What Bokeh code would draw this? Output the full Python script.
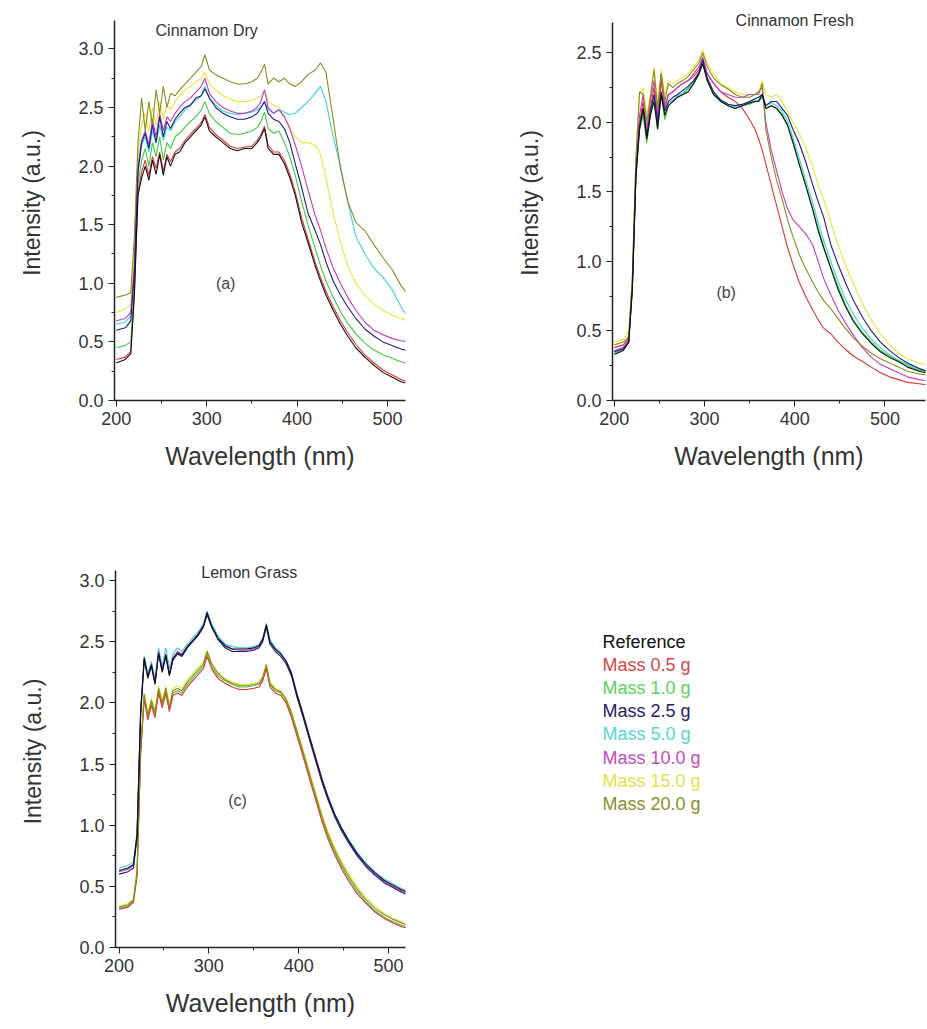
from bokeh.plotting import figure
from bokeh.models import Range1d, SingleIntervalTicker, PrintfTickFormatter, Label, ColumnDataSource
from bokeh.layouts import row, column
from bokeh.embed import file_html
from bokeh.resources import INLINE
from bokeh.core.properties import value

# ---------------- data ----------------
wavelength = [200, 210, 216, 220, 224, 228, 232, 236, 240, 244, 248, 252, 256, 260, 265, 270,
              276, 282, 288, 294, 298, 303, 310, 318, 326, 334, 342, 350, 356, 360, 364, 368,
              374, 380, 386, 392, 398, 405, 412, 420, 426, 432, 440, 448, 456, 465, 475, 485,
              495, 505, 515, 525, 538, 550]

series_names = ["Reference", "Mass 0.5 g", "Mass 1.0 g", "Mass 2.5 g", "Mass 5.0 g",
                "Mass 10.0 g", "Mass 15.0 g", "Mass 20.0 g"]
series_colors = ["#111111", "#e03535", "#3ccc3c", "#1c1c88", "#38d4d4", "#c838c8", "#e6e63a", "#8c8c1e"]
legend_colors = ["#111111", "#d64848", "#5ad45a", "#22226e", "#55d6d6", "#c44ac4", "#e2e24a", "#8c8c2a"]

# (a) Cinnamon Dry
a_ref = [0.32, 0.35, 0.40, 0.90, 1.75, 1.90, 2.00, 1.88, 2.05, 1.93, 2.10, 1.92, 2.08, 2.00, 2.10, 2.12,
         2.20, 2.25, 2.30, 2.35, 2.42, 2.30, 2.25, 2.20, 2.15, 2.13, 2.15, 2.15, 2.20, 2.25, 2.32, 2.15,
         2.10, 2.10, 2.02, 1.90, 1.75, 1.52, 1.35, 1.15, 1.02, 0.90, 0.77, 0.65, 0.55, 0.45, 0.37, 0.30,
         0.24, 0.20, 0.16, 0.14, 0.12, 0.11]
a_m05 = [0.35, 0.37, 0.42, 0.92, 1.78, 1.95, 2.05, 1.92, 2.08, 1.98, 2.12, 1.96, 2.10, 2.04, 2.12, 2.15,
         2.22, 2.27, 2.32, 2.37, 2.44, 2.33, 2.27, 2.22, 2.17, 2.15, 2.16, 2.17, 2.22, 2.27, 2.34, 2.18,
         2.12, 2.12, 2.05, 1.93, 1.78, 1.56, 1.38, 1.18, 1.05, 0.93, 0.80, 0.68, 0.58, 0.48, 0.39, 0.32,
         0.26, 0.22, 0.18, 0.15, 0.13, 0.12]
a_m10 = [0.45, 0.47, 0.50, 1.00, 1.85, 2.05, 2.15, 2.00, 2.20, 2.08, 2.25, 2.05, 2.20, 2.15, 2.25, 2.28,
         2.33, 2.38, 2.42, 2.48, 2.55, 2.45, 2.38, 2.33, 2.28, 2.27, 2.28, 2.30, 2.33, 2.38, 2.46, 2.32,
         2.28, 2.30, 2.20, 2.08, 1.92, 1.70, 1.50, 1.30, 1.15, 1.02, 0.88, 0.76, 0.66, 0.57, 0.49, 0.43,
         0.39, 0.36, 0.33, 0.31, 0.30, 0.29]
a_m25 = [0.60, 0.62, 0.68, 1.10, 1.95, 2.20, 2.28, 2.15, 2.35, 2.20, 2.42, 2.25, 2.38, 2.32, 2.40, 2.45,
         2.50, 2.52, 2.58, 2.60, 2.66, 2.58, 2.50, 2.45, 2.42, 2.40, 2.40, 2.42, 2.45, 2.50, 2.55, 2.45,
         2.40, 2.38, 2.32, 2.20, 2.02, 1.82, 1.60, 1.45, 1.33, 1.18, 1.02, 0.90, 0.80, 0.70, 0.61, 0.55,
         0.50, 0.47, 0.44, 0.42, 0.40, 0.38]
a_m50 = [0.65, 0.67, 0.72, 1.10, 1.95, 2.18, 2.25, 2.12, 2.30, 2.20, 2.35, 2.22, 2.33, 2.30, 2.38, 2.42,
         2.48, 2.52, 2.56, 2.60, 2.68, 2.58, 2.52, 2.47, 2.45, 2.44, 2.45, 2.46, 2.48, 2.50, 2.55, 2.48,
         2.45, 2.48, 2.46, 2.44, 2.45, 2.50, 2.55, 2.62, 2.68, 2.55, 2.25, 2.00, 1.70, 1.40, 1.25, 1.13,
         1.05, 0.95, 0.80, 0.68, 0.58, 0.50]
a_m100 = [0.68, 0.70, 0.75, 1.15, 2.00, 2.22, 2.30, 2.18, 2.40, 2.25, 2.45, 2.30, 2.42, 2.38, 2.45, 2.50,
          2.55, 2.58, 2.63, 2.68, 2.75, 2.62, 2.55, 2.50, 2.47, 2.45, 2.45, 2.47, 2.50, 2.55, 2.65, 2.50,
          2.45, 2.48, 2.42, 2.32, 2.18, 2.00, 1.80, 1.58, 1.45, 1.30, 1.13, 1.00, 0.88, 0.77, 0.67, 0.60,
          0.56, 0.53, 0.51, 0.50, 0.49, 0.48]
a_m150 = [0.75, 0.78, 0.82, 1.30, 2.10, 2.35, 2.45, 2.30, 2.50, 2.35, 2.55, 2.40, 2.52, 2.48, 2.55, 2.60,
          2.65, 2.68, 2.72, 2.75, 2.80, 2.70, 2.65, 2.60, 2.57, 2.55, 2.55, 2.56, 2.58, 2.60, 2.65, 2.55,
          2.52, 2.50, 2.42, 2.32, 2.25, 2.20, 2.20, 2.18, 2.10, 1.90, 1.60, 1.35, 1.15, 1.00, 0.90, 0.82,
          0.77, 0.73, 0.70, 0.67, 0.64, 0.62]
a_m200 = [0.88, 0.90, 0.92, 1.40, 2.20, 2.58, 2.30, 2.55, 2.35, 2.65, 2.45, 2.68, 2.50, 2.62, 2.60, 2.65,
          2.70, 2.75, 2.80, 2.85, 2.95, 2.82, 2.78, 2.75, 2.72, 2.70, 2.70, 2.72, 2.75, 2.80, 2.87, 2.70,
          2.75, 2.72, 2.75, 2.70, 2.68, 2.72, 2.78, 2.82, 2.88, 2.80, 2.40, 1.98, 1.70, 1.52, 1.45, 1.33,
          1.22, 1.12, 0.98, 0.88, 0.80, 0.72]

# (b) Cinnamon Fresh
b_ref = [0.33, 0.36, 0.42, 0.80, 1.60, 1.95, 2.10, 1.88, 2.05, 2.15, 1.95, 2.20, 2.05, 2.12, 2.15, 2.18,
         2.20, 2.22, 2.28, 2.35, 2.42, 2.30, 2.20, 2.15, 2.12, 2.10, 2.12, 2.14, 2.15, 2.15, 2.20, 2.10,
         2.12, 2.10, 2.05, 1.98, 1.86, 1.70, 1.55, 1.37, 1.22, 1.10, 0.95, 0.80, 0.68, 0.57, 0.48, 0.41,
         0.35, 0.31, 0.28, 0.24, 0.21, 0.19]
b_m05 = [0.38, 0.40, 0.45, 0.85, 1.65, 2.00, 2.15, 1.90, 2.10, 2.25, 2.00, 2.30, 2.10, 2.20, 2.22, 2.25,
         2.28, 2.30, 2.33, 2.38, 2.45, 2.35, 2.28, 2.22, 2.18, 2.15, 2.10, 2.02, 1.95, 1.88, 1.80, 1.70,
         1.55, 1.40, 1.25, 1.10, 0.98, 0.85, 0.75, 0.65, 0.58, 0.52, 0.48, 0.42, 0.37, 0.32, 0.28, 0.24,
         0.20, 0.17, 0.15, 0.13, 0.12, 0.11]
b_m10 = [0.34, 0.37, 0.42, 0.80, 1.62, 1.95, 2.05, 1.85, 2.05, 2.18, 1.95, 2.20, 2.02, 2.12, 2.15, 2.18,
         2.20, 2.24, 2.28, 2.35, 2.43, 2.30, 2.20, 2.15, 2.12, 2.10, 2.12, 2.13, 2.15, 2.15, 2.18, 2.10,
         2.12, 2.10, 2.06, 1.98, 1.85, 1.70, 1.55, 1.38, 1.24, 1.11, 0.96, 0.82, 0.69, 0.58, 0.49, 0.42,
         0.36, 0.32, 0.28, 0.25, 0.22, 0.20]
b_m25 = [0.35, 0.37, 0.42, 0.80, 1.65, 1.98, 2.10, 1.90, 2.08, 2.20, 2.00, 2.22, 2.08, 2.15, 2.18, 2.20,
         2.23, 2.26, 2.30, 2.36, 2.45, 2.32, 2.22, 2.16, 2.13, 2.12, 2.13, 2.15, 2.17, 2.18, 2.20, 2.12,
         2.15, 2.15, 2.10, 2.05, 1.95, 1.85, 1.72, 1.55, 1.43, 1.32, 1.12, 0.98, 0.85, 0.72, 0.60, 0.50,
         0.42, 0.36, 0.31, 0.27, 0.23, 0.20]
b_m50 = [0.35, 0.38, 0.43, 0.82, 1.63, 1.97, 2.08, 1.87, 2.06, 2.20, 1.97, 2.22, 2.04, 2.14, 2.16, 2.19,
         2.21, 2.25, 2.30, 2.36, 2.44, 2.31, 2.21, 2.16, 2.13, 2.11, 2.13, 2.14, 2.16, 2.16, 2.20, 2.12,
         2.14, 2.12, 2.08, 2.01, 1.89, 1.74, 1.59, 1.42, 1.28, 1.15, 1.00, 0.86, 0.73, 0.62, 0.52, 0.44,
         0.38, 0.33, 0.29, 0.26, 0.23, 0.21]
b_m100 = [0.36, 0.38, 0.44, 0.85, 1.70, 2.05, 2.20, 1.95, 2.15, 2.30, 2.05, 2.35, 2.12, 2.20, 2.22, 2.25,
          2.28, 2.30, 2.35, 2.40, 2.47, 2.35, 2.28, 2.22, 2.20, 2.18, 2.18, 2.20, 2.20, 2.22, 2.25, 2.00,
          1.80, 1.65, 1.50, 1.38, 1.30, 1.25, 1.20, 1.12, 1.00, 0.88, 0.76, 0.65, 0.56, 0.47, 0.38, 0.31,
          0.26, 0.23, 0.20, 0.17, 0.15, 0.14]
b_m150 = [0.42, 0.44, 0.50, 0.90, 1.75, 2.20, 2.25, 2.05, 2.20, 2.40, 2.15, 2.38, 2.20, 2.30, 2.28, 2.30,
          2.32, 2.35, 2.40, 2.45, 2.52, 2.42, 2.35, 2.28, 2.25, 2.22, 2.20, 2.20, 2.20, 2.22, 2.30, 2.20,
          2.18, 2.20, 2.15, 2.08, 2.00, 1.92, 1.82, 1.68, 1.55, 1.45, 1.28, 1.12, 0.98, 0.84, 0.70, 0.58,
          0.48, 0.40, 0.34, 0.30, 0.27, 0.25]
b_m200 = [0.40, 0.42, 0.46, 0.88, 1.75, 2.22, 2.20, 2.00, 2.18, 2.38, 2.10, 2.35, 2.15, 2.28, 2.25, 2.28,
          2.30, 2.33, 2.38, 2.43, 2.50, 2.40, 2.32, 2.27, 2.24, 2.20, 2.18, 2.18, 2.20, 2.20, 2.28, 1.95,
          1.75, 1.58, 1.45, 1.30, 1.18, 1.05, 0.95, 0.85, 0.78, 0.72, 0.66, 0.59, 0.52, 0.45, 0.39, 0.34,
          0.30, 0.27, 0.24, 0.21, 0.19, 0.18]

# (c) Lemon Grass
c_ref = [0.63, 0.65, 0.68, 0.92, 1.93, 2.37, 2.21, 2.31, 2.16, 2.41, 2.26, 2.39, 2.23, 2.36, 2.41, 2.39,
         2.46, 2.51, 2.56, 2.63, 2.74, 2.63, 2.53, 2.47, 2.44, 2.44, 2.44, 2.45, 2.47, 2.52, 2.64, 2.50,
         2.44, 2.40, 2.34, 2.24, 2.07, 1.90, 1.72, 1.52, 1.37, 1.24, 1.09, 0.97, 0.87, 0.77, 0.68, 0.61,
         0.55, 0.51, 0.47, 0.44, 0.42, 0.40]
c_m05 = [0.31, 0.33, 0.37, 0.58, 1.58, 2.03, 1.86, 1.98, 1.88, 2.08, 1.96, 2.08, 1.93, 2.06, 2.08, 2.06,
         2.13, 2.18, 2.23, 2.28, 2.38, 2.28, 2.20, 2.16, 2.13, 2.11, 2.11, 2.12, 2.13, 2.18, 2.28, 2.13,
         2.08, 2.06, 2.00, 1.88, 1.73, 1.56, 1.38, 1.18, 1.03, 0.90, 0.76, 0.64, 0.54, 0.44, 0.36, 0.29,
         0.24, 0.20, 0.17, 0.15, 0.13, 0.12]
c_m10 = [0.32, 0.34, 0.38, 0.60, 1.60, 2.05, 1.88, 2.00, 1.90, 2.10, 1.98, 2.10, 1.95, 2.08, 2.10, 2.08,
         2.15, 2.20, 2.25, 2.30, 2.40, 2.30, 2.22, 2.18, 2.15, 2.13, 2.13, 2.14, 2.15, 2.20, 2.30, 2.15,
         2.10, 2.08, 2.02, 1.90, 1.75, 1.58, 1.40, 1.20, 1.05, 0.92, 0.78, 0.66, 0.56, 0.46, 0.37, 0.30,
         0.25, 0.21, 0.18, 0.16, 0.14, 0.13]
c_m25 = [0.60, 0.62, 0.65, 0.90, 1.90, 2.35, 2.20, 2.30, 2.15, 2.40, 2.25, 2.38, 2.22, 2.35, 2.40, 2.38,
         2.45, 2.50, 2.55, 2.62, 2.72, 2.62, 2.52, 2.45, 2.42, 2.42, 2.42, 2.43, 2.45, 2.50, 2.62, 2.48,
         2.42, 2.38, 2.32, 2.22, 2.05, 1.88, 1.70, 1.50, 1.35, 1.22, 1.07, 0.95, 0.85, 0.75, 0.66, 0.59,
         0.53, 0.49, 0.45, 0.42, 0.40, 0.38]
c_m50 = [0.65, 0.67, 0.70, 0.95, 1.95, 2.38, 2.24, 2.34, 2.20, 2.45, 2.30, 2.45, 2.28, 2.40, 2.45, 2.42,
         2.48, 2.53, 2.58, 2.65, 2.75, 2.65, 2.55, 2.48, 2.46, 2.45, 2.45, 2.46, 2.48, 2.53, 2.65, 2.52,
         2.45, 2.41, 2.35, 2.25, 2.08, 1.91, 1.73, 1.53, 1.38, 1.25, 1.10, 0.98, 0.88, 0.78, 0.69, 0.62,
         0.56, 0.52, 0.48, 0.45, 0.43, 0.41]
c_m100 = [0.62, 0.64, 0.67, 0.92, 1.92, 2.36, 2.22, 2.32, 2.17, 2.42, 2.27, 2.40, 2.24, 2.37, 2.42, 2.40,
          2.46, 2.51, 2.56, 2.63, 2.73, 2.63, 2.53, 2.46, 2.44, 2.43, 2.43, 2.44, 2.46, 2.51, 2.63, 2.50,
          2.44, 2.40, 2.34, 2.24, 2.08, 1.91, 1.73, 1.53, 1.38, 1.25, 1.09, 0.97, 0.86, 0.76, 0.67, 0.60,
          0.54, 0.50, 0.46, 0.43, 0.41, 0.39]
c_m150 = [0.34, 0.36, 0.40, 0.65, 1.65, 2.08, 1.92, 2.04, 1.94, 2.14, 2.02, 2.14, 1.99, 2.12, 2.14, 2.12,
          2.19, 2.24, 2.29, 2.34, 2.43, 2.33, 2.25, 2.20, 2.17, 2.15, 2.15, 2.16, 2.17, 2.22, 2.32, 2.17,
          2.12, 2.10, 2.04, 1.93, 1.78, 1.62, 1.44, 1.24, 1.09, 0.96, 0.82, 0.70, 0.60, 0.50, 0.41, 0.34,
          0.28, 0.24, 0.21, 0.18, 0.16, 0.15]
c_m200 = [0.33, 0.35, 0.39, 0.62, 1.62, 2.07, 1.90, 2.02, 1.92, 2.12, 2.00, 2.12, 1.97, 2.10, 2.12, 2.10,
          2.17, 2.22, 2.27, 2.32, 2.42, 2.32, 2.24, 2.19, 2.16, 2.14, 2.14, 2.15, 2.16, 2.21, 2.31, 2.16,
          2.11, 2.09, 2.03, 1.92, 1.77, 1.60, 1.42, 1.22, 1.07, 0.94, 0.80, 0.68, 0.58, 0.48, 0.39, 0.32,
          0.27, 0.23, 0.20, 0.17, 0.15, 0.14]

panel_a = [a_ref, a_m05, a_m10, a_m25, a_m50, a_m100, a_m150, a_m200]
panel_b = [b_ref, b_m05, b_m10, b_m25, b_m50, b_m100, b_m150, b_m200]
panel_c = [c_ref, c_m05, c_m10, c_m25, c_m50, c_m100, c_m150, c_m200]
for group in (panel_a, panel_b, panel_c):
    for s in group:
        assert len(s) == len(wavelength), len(s)

FONT = "Liberation Sans"
TXT = "#333333"
# drawing order (index into series lists)
DRAW_ORDER = [6, 4, 2, 1, 5, 7, 3, 0]


def make_panel(ys, width, height, borders, xr, yr, ybounds, title, title_xy, tag, tag_xy,
               ylabel_standoff):
    left, right, top, bottom = borders
    p = figure(width=width, height=height, x_range=Range1d(*xr), y_range=Range1d(*yr),
               output_backend="svg", toolbar_location=None,
               min_border_left=left, min_border_right=right,
               min_border_top=top, min_border_bottom=bottom)
    for i in DRAW_ORDER:
        p.line(wavelength, ys[i], line_color=series_colors[i], line_width=1.1)
    p.xgrid.visible = False
    p.ygrid.visible = False
    p.outline_line_color = None
    p.background_fill_color = "white"
    p.border_fill_color = "white"
    p.xaxis.ticker = SingleIntervalTicker(interval=100, num_minor_ticks=2)
    p.yaxis.ticker = SingleIntervalTicker(interval=0.5, num_minor_ticks=2)
    p.yaxis.formatter = PrintfTickFormatter(format="%.1f")
    p.yaxis.bounds = ybounds
    p.axis.axis_line_color = "#222222"
    p.axis.axis_line_width = 1.5
    p.axis.major_tick_line_color = "#222222"
    p.axis.minor_tick_line_color = "#222222"
    p.axis.major_tick_out = 6
    p.axis.major_tick_in = 0
    p.axis.minor_tick_out = 3
    p.axis.minor_tick_in = 0
    p.axis.major_label_text_font = FONT
    p.axis.major_label_text_font_size = "18px"
    p.axis.major_label_text_color = TXT
    p.axis.axis_label_text_font = FONT
    p.axis.axis_label_text_font_style = "normal"
    p.axis.axis_label_text_color = TXT
    p.xaxis.axis_label = "Wavelength (nm)"
    p.xaxis.axis_label_text_font_size = "25px"
    p.xaxis.axis_label_standoff = 14
    p.yaxis.axis_label = "Intensity (a.u.)"
    p.yaxis.axis_label_text_font_size = "23px"
    p.yaxis.axis_label_standoff = ylabel_standoff
    p.add_layout(Label(x=title_xy[0], y=title_xy[1], text=title, text_align="center",
                       text_baseline="middle", text_font=FONT, text_font_size="16px",
                       text_color=TXT))
    p.add_layout(Label(x=tag_xy[0], y=tag_xy[1], text=tag, text_align="center",
                       text_baseline="middle", text_font=FONT, text_font_size="16px",
                       text_color="#444444"))
    return p


# top row: frames share top (y=5) and bottom (y=400)
pa = make_panel(panel_a, 470, 480, (114, 65, 5, 80), (198, 520), (0, 3.37), (0, 3.24),
                "Cinnamon Dry", (300, 3.16), "(a)", (321, 1.0), 30)
pb = make_panel(panel_b, 457, 480, (142, 2, 5, 80), (198, 545), (0, 2.84), (0, 2.72),
                "Cinnamon Fresh", (400, 2.73), "(b)", (324, 0.78), 30)
# bottom row: frames from y=555 to y=947
pc = make_panel(panel_c, 470, 549, (115, 65, 75, 82), (196, 519), (0, 3.205), (0, 3.08),
                "Lemon Grass", (345, 3.07), "(c)", (332, 1.2), 30)

# legend panel: coloured text only (frame aligned with panel c's frame)
leg = figure(width=457, height=549, x_range=Range1d(0, 457), y_range=Range1d(392, 0),
             output_backend="svg", toolbar_location=None, x_axis_type=None, y_axis_type=None,
             min_border_left=0, min_border_right=0, min_border_top=75, min_border_bottom=82)
leg.xgrid.visible = False
leg.ygrid.visible = False
leg.outline_line_color = None
leg_src = ColumnDataSource(dict(
    x=[132] * len(series_names),
    y=[86 + 23.2 * i for i in range(len(series_names))],
    text=series_names,
    color=legend_colors,
))
leg.text(x="x", y="y", text="text", text_color="color", source=leg_src,
         text_font=value(FONT), text_font_size="18px", text_baseline="middle", text_align="left")

layout = column(row(pa, pb), row(pc, leg))
open("out.html", "w").write(file_html(layout, INLINE))
